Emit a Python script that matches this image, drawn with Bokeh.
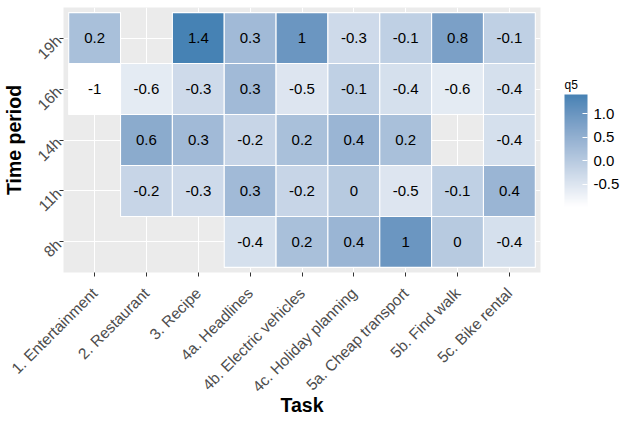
import math
import numpy as np
from bokeh.plotting import figure
from bokeh.models import (ColumnDataSource, LinearColorMapper, ColorBar, FixedTicker,
                          PrintfTickFormatter, FactorRange)
from bokeh.core.properties import value
from bokeh.embed import file_html
from bokeh.resources import INLINE

# ---------------- data ----------------
tasks = ["1. Entertainment", "2. Restaurant", "3. Recipe", "4a. Headlines",
         "4b. Electric vehicles", "4c. Holiday planning", "5a. Cheap transport",
         "5b. Find walk", "5c. Bike rental"]
periods = ["8h", "11h", "14h", "16h", "19h"]

q5_8h = [None, None, None, -0.4, 0.2, 0.4, 1.0, 0.0, -0.4]
q5_11h = [None, -0.2, -0.3, 0.3, -0.2, 0.0, -0.5, -0.1, 0.4]
q5_14h = [None, 0.6, 0.3, -0.2, 0.2, 0.4, 0.2, None, -0.4]
q5_16h = [-0.97, -0.6, -0.3, 0.3, -0.5, -0.1, -0.4, -0.6, -0.4]
q5_19h = [0.2, None, 1.41, 0.3, 1.0, -0.3, -0.1, 0.8, -0.1]
rows = {"8h": q5_8h, "11h": q5_11h, "14h": q5_14h, "16h": q5_16h, "19h": q5_19h}

legend_title = "q5"
legend_ticks = [-0.5, 0.0, 0.5, 1.0]

# ---------------- table ----------------
xs, ys, vs, labels = [], [], [], []
for per in periods:
    for t, v in zip(tasks, rows[per]):
        if v is None:
            continue
        xs.append(t)
        ys.append(per)
        vs.append(v)
        r = round(v, 1)
        labels.append(f"{r:g}")
src = ColumnDataSource(dict(task=xs, period=ys, q5=vs, label=labels))

# ---------------- palette (white -> steelblue in Lab) ----------------
def _lin(c):
    c = c / 255.0
    return np.where(c <= 0.04045, c / 12.92, ((c + 0.055) / 1.055) ** 2.4)

def _unlin(c):
    c = np.where(c <= 0.0031308, 12.92 * c, 1.055 * np.power(np.clip(c, 0, None), 1 / 2.4) - 0.055)
    return np.clip(np.round(c * 255), 0, 255).astype(int)

M = np.array([[0.4124564, 0.3575761, 0.1804375],
              [0.2126729, 0.7151522, 0.0721750],
              [0.0193339, 0.1191920, 0.9503041]])
WHITE = np.array([0.95047, 1.0, 1.08883])

def rgb2lab(rgb):
    xyz = M @ _lin(np.array(rgb, float)) / WHITE
    f = np.where(xyz > 216 / 24389, np.cbrt(xyz), (24389 / 27 * xyz + 16) / 116)
    return np.array([116 * f[1] - 16, 500 * (f[0] - f[1]), 200 * (f[1] - f[2])])

def lab2rgb(lab):
    L, a, b = lab
    fy = (L + 16) / 116
    fx = fy + a / 500
    fz = fy - b / 200
    f = np.array([fx, fy, fz])
    xyz = np.where(f ** 3 > 216 / 24389, f ** 3, (116 * f - 16) / (24389 / 27)) * WHITE
    rgb = np.linalg.solve(M, xyz)
    return _unlin(rgb)

lo, hi = rgb2lab((255, 255, 255)), rgb2lab((70, 130, 180))
pal = []
for t in np.linspace(0, 1, 256):
    r, g, b = lab2rgb(lo + (hi - lo) * t)
    pal.append("#%02x%02x%02x" % (r, g, b))

mapper = LinearColorMapper(palette=pal, low=min(vs), high=max(vs))

# ---------------- figure ----------------
FW, FH = 477, 265
p = figure(frame_width=FW, frame_height=FH, x_range=FactorRange(*tasks),
           y_range=FactorRange(*periods),
           output_backend="svg", toolbar_location=None,
           min_border_left=57, min_border_right=87, min_border_top=7, min_border_bottom=10)
p.x_range.range_padding = 0.1
p.x_range.range_padding_units = "absolute"
p.y_range.range_padding = 0.1
p.y_range.range_padding_units = "absolute"

p.background_fill_color = "#EBEBEB"
p.border_fill_color = "white"
p.outline_line_color = None
p.grid.grid_line_color = "white"
p.grid.grid_line_width = 1.1

p.rect(x="task", y="period", width=1, height=1, source=src,
       fill_color={"field": "q5", "transform": mapper}, line_color="white", line_width=1.1)
p.text(x="task", y="period", text="label", source=src, text_align="center",
       text_baseline="middle", text_font=value("Liberation Sans"), text_font_size="15px",
       text_color="black")

for ax in (p.xaxis[0], p.yaxis[0]):
    ax.axis_line_color = None
    ax.major_tick_line_color = "#333333"
    ax.major_tick_out = 4
    ax.major_tick_in = 0
    ax.minor_tick_line_color = None
    ax.major_label_text_font = "Liberation Sans"
    ax.major_label_text_font_size = "15.5px"
    ax.major_label_text_color = "#4D4D4D"
    ax.major_label_orientation = math.pi / 4
    ax.axis_label_text_font = "Liberation Sans"
    ax.axis_label_text_font_size = "19.5px"
    ax.axis_label_text_font_style = "bold"
    ax.axis_label_text_color = "black"
p.xaxis.major_label_standoff = 14
p.yaxis.major_label_standoff = 1
p.xaxis.axis_label = "Task"
p.yaxis.axis_label = "Time period"
p.xaxis.axis_label_standoff = -10
p.yaxis.axis_label_standoff = 0

# colour bar (drawn just right of the panel)
cb = ColorBar(color_mapper=mapper, width=23, height=112, location=(FW + 24, 66),
              padding=0, margin=0, title=None,
              ticker=FixedTicker(ticks=legend_ticks),
              formatter=PrintfTickFormatter(format="%.1f"),
              major_label_text_font="Liberation Sans", major_label_text_font_size="15px",
              major_label_text_color="black", label_standoff=6,
              major_tick_line_color="white", major_tick_in=5, major_tick_out=0,
              bar_line_color=None, border_line_color=None, background_fill_color=None)
p.add_layout(cb)

# legend title: an invisible horizontal bar whose title sits above it
title_bar = ColorBar(color_mapper=LinearColorMapper(palette=["#ffffff"], low=0, high=1),
                     orientation="horizontal", width=23, height=1, scale_alpha=0,
                     location=(FW + 24, 66 + 112), padding=0, margin=0,
                     title=legend_title, title_text_font="Liberation Sans",
                     title_text_font_size="12px", title_text_font_style="normal",
                     title_text_color="black", title_standoff=3,
                     ticker=FixedTicker(ticks=[]), major_label_text_font_size="0px",
                     major_label_text_color=None, label_standoff=0,
                     major_tick_line_color=None, major_tick_out=0, major_tick_in=0,
                     minor_tick_line_color=None,
                     bar_line_color=None, border_line_color=None, background_fill_color=None)
p.add_layout(title_bar)

open("out.html", "w").write(file_html(p, INLINE))
